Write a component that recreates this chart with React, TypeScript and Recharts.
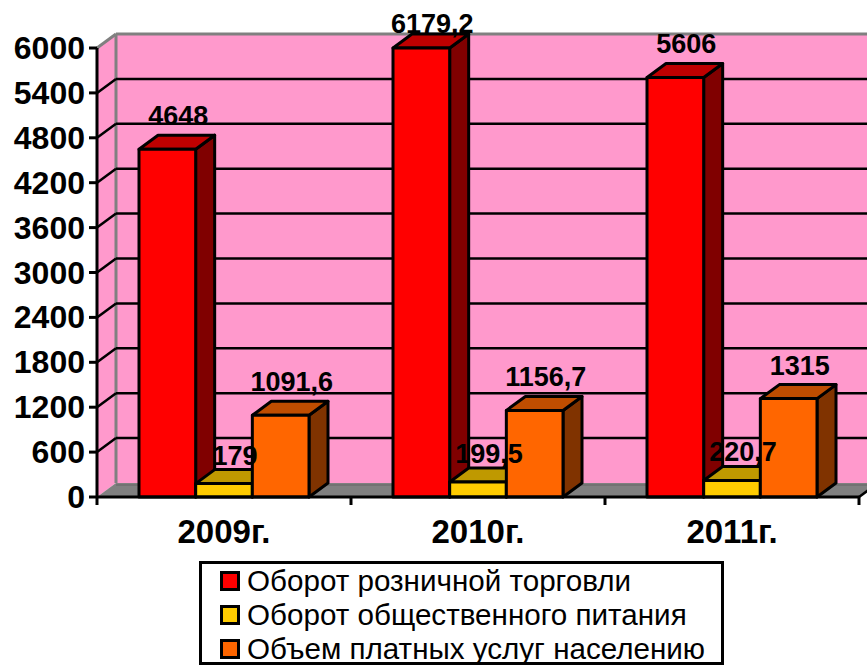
import React from "react";
import { BarChart, Bar, XAxis, YAxis, CartesianGrid, ReferenceArea, Legend, LabelList } from "recharts";

const years = ["2009г.", "2010г.", "2011г."];
const retail = [4648, 6179.2, 5606];
const catering = [179, 199.5, 220.7];
const services = [1091.6, 1156.7, 1315];
const yTicks = [0, 600, 1200, 1800, 2400, 3000, 3600, 4200, 4800, 5400, 6000];
const yMax = 6000;

const seriesNames = ["Оборот розничной торговли", "Оборот общественного питания", "Объем платных услуг населению"];
const faceColors = ["#FF0000", "#FFCC00", "#FF6600"];
const topColors = ["#BF0000", "#BF9900", "#BF4D00"];
const sideColors = ["#800000", "#806600", "#803300"];

const rows = years.map((year, i) => ({ year, retail: retail[i], catering: catering[i], services: services[i] }));

const DX = 19;
const DY = 14;
const FONT = "'Liberation Sans', Arial, sans-serif";
const INK = 3;

const Box3D = (colorIdx: number) => (props: any) => {
  const { x, y, width, height } = props;
  return (
    <g stroke="#000" strokeWidth={INK} strokeLinejoin="round">
      <polygon points={`${x + width},${y} ${x + width + DX},${y - DY} ${x + width + DX},${y + height - DY} ${x + width},${y + height}`} fill={sideColors[colorIdx]} />
      <polygon points={`${x},${y} ${x + DX},${y - DY} ${x + width + DX},${y - DY} ${x + width},${y}`} fill={topColors[colorIdx]} />
      <rect x={x} y={y} width={width} height={height} fill={faceColors[colorIdx]} />
    </g>
  );
};

// walls and floor of the 3d box behind the bars
const Walls = (props: any) => {
  const { x, y, width, height } = props;
  const b = y + height;
  const r = x + width;
  return (
    <g>
      <polygon points={`${x},${y} ${x + DX},${y - DY} ${x + DX},${b - DY} ${x},${b}`} fill="#FF99CC" />
      <rect x={x + DX} y={y - DY} width={width} height={height} fill="#FF99CC" />
      <polygon points={`${x},${b} ${x + DX},${b - DY} ${r + DX},${b - DY} ${r},${b}`} fill="#808080" />
      <line x1={x + DX} y1={b - DY + 2} x2={r + DX} y2={b - DY + 2} stroke="#6E6E6E" strokeWidth={1.5} />
      <line x1={x + DX} y1={y - DY} x2={r + DX} y2={y - DY} stroke="#808080" strokeWidth={3} />
      <line x1={x + DX} y1={y - DY} x2={x + DX} y2={b - DY} stroke="#808080" strokeWidth={3} />
      <line x1={x} y1={y} x2={x + DX} y2={y - DY} stroke="#808080" strokeWidth={3} />
      <line x1={r} y1={b} x2={r + DX} y2={b - DY} stroke="#000" strokeWidth={2.5} />
    </g>
  );
};

const GridLine = (props: any) => {
  const { x1, x2, y1, index } = props;
  if (index === 0 || index === yTicks.length - 1) return <g key={props.key} />;
  return (
    <g key={props.key} stroke="#000" strokeWidth={2.5}>
      <line x1={x1} y1={y1} x2={x1 + DX} y2={y1 - DY} />
      <line x1={x1 + DX} y1={y1 - DY} x2={x2 + DX} y2={y1 - DY} />
    </g>
  );
};

const YTick = (props: any) => {
  const { x, y, payload } = props;
  return (
    <text x={x - 2} y={y + 11} textAnchor="end" fontFamily={FONT} fontWeight="bold" fontSize={32} fill="#000">
      {payload.value}
    </text>
  );
};

const XTick = (props: any) => {
  const { x, y, payload, index } = props;
  const half = 127;
  return (
    <g>
      <line x1={x - half} y1={y - 8} x2={x - half} y2={y} stroke="#000" strokeWidth={3} />
      {index === years.length - 1 && <line x1={x + half} y1={y - 8} x2={x + half} y2={y} stroke="#000" strokeWidth={3} />}
      <text x={x} y={y + 38} textAnchor="middle" fontFamily={FONT} fontWeight="bold" fontSize={33} fill="#000">
        {payload.value}
      </text>
    </g>
  );
};

const ValueLabel = (values: number[]) => (props: any) => {
  const { x, y, width, index } = props;
  const value = values[index];
  const lift = value > yMax ? 15 : value < 500 ? 19 : 24;
  return (
    <text x={x + width / 2 + 11} y={y - lift} textAnchor="middle" fontFamily={FONT} fontWeight="bold" fontSize={27} fill="#000">
      {String(value).replace(".", ",")}
    </text>
  );
};

const LegendBox = () => (
  <div style={{ boxSizing: "border-box", width: 525, height: 104, border: "3px solid #000", background: "#fff", paddingLeft: 18, fontFamily: FONT, fontSize: 29.6, color: "#000" }}>
    {seriesNames.map((name, i) => (
      <div key={name} style={{ display: "flex", alignItems: "center", height: 34, whiteSpace: "nowrap" }}>
        <span style={{ display: "inline-block", boxSizing: "border-box", width: 20, height: 20, border: "3px solid #000", background: faceColors[i], marginRight: 7 }} />
        {name}
      </div>
    ))}
  </div>
);

export default function App() {
  return (
    <div style={{ position: "absolute", left: 0, top: 0, width: 867, height: 666, overflow: "hidden", background: "#fff" }}>
      <BarChart width={867} height={666} data={rows} margin={{ top: 48, right: 8, bottom: 0, left: 0 }} barGap={0} barSize={56.67}>
        <ReferenceArea y1={0} y2={yMax} shape={Walls} stroke="none" zIndex={-200} />
        <CartesianGrid vertical={false} horizontal={GridLine} />
        <XAxis dataKey="year" axisLine={{ stroke: "#000", strokeWidth: 3 }} tickLine={false} tick={XTick} height={169} />
        <YAxis width={97} domain={[0, yMax]} ticks={yTicks} interval={0} axisLine={{ stroke: "#000", strokeWidth: 3 }} tickLine={{ stroke: "#000", strokeWidth: 3 }} tickSize={8} tick={YTick} />
        <Bar dataKey={(d: any) => Math.min(d.retail, yMax)} name={seriesNames[0]} shape={Box3D(0)} isAnimationActive={false}>
          <LabelList content={ValueLabel(retail)} />
        </Bar>
        <Bar dataKey="catering" name={seriesNames[1]} shape={Box3D(1)} isAnimationActive={false}>
          <LabelList content={ValueLabel(catering)} />
        </Bar>
        <Bar dataKey="services" name={seriesNames[2]} shape={Box3D(2)} isAnimationActive={false}>
          <LabelList content={ValueLabel(services)} />
        </Bar>
        <Legend layout="vertical" align="center" verticalAlign="middle" content={LegendBox} wrapperStyle={{ left: 199, top: 561, width: 525, height: 104 }} />
      </BarChart>
    </div>
  );
}
